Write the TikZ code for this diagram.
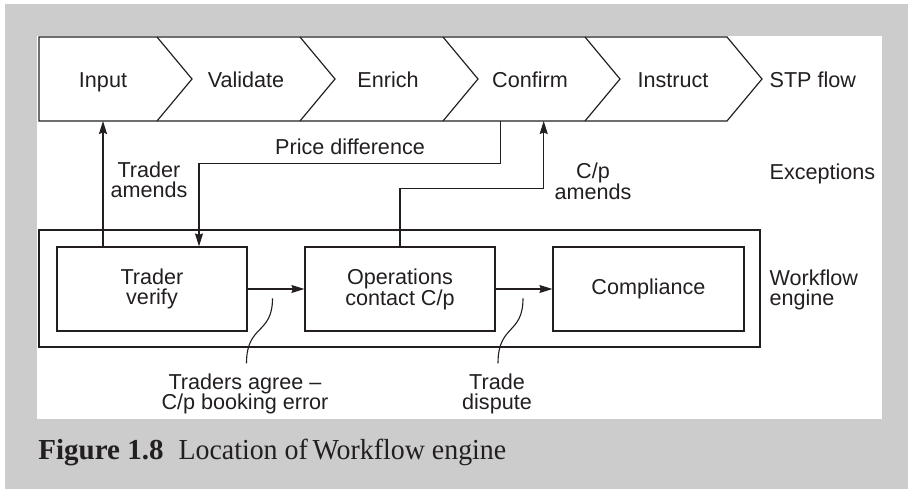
\documentclass[tikz,border=0pt]{standalone}
\usepackage{fontspec}
\setmainfont{Liberation Sans}
\newfontfamily\capfont{Liberation Serif}
\usetikzlibrary{arrows.meta}
\definecolor{framegray}{HTML}{CCCCCC}
\definecolor{ink}{HTML}{231F20}
\begin{document}
\begin{tikzpicture}[x=1pt,y=-1pt,line width=1.2pt,
  >={Stealth[length=13pt,width=8pt,inset=1.5pt]},
  lbl/.style={font=\fontsize{21.6}{20}\selectfont,text=ink,inner sep=0pt,align=center},
  tightlbl/.style={lbl,font=\fontsize{21.6}{19.5}\selectfont},
  stagebox/.style={tightlbl,draw=ink,minimum width=190pt,minimum height=84pt},
  wire/.style={draw=ink,line width=1.2pt},
  leader/.style={draw=ink,line width=1.1pt}]

% page, grey frame and white panel
\fill[white] (0,0) rectangle (908,489);
\fill[framegray] (5,4) rectangle (908,489);
\fill[white] (37,36) rectangle (881.5,418.5);

% STP flow: row of chevrons
\draw[wire,line join=miter] (39,37) -- (727,37) -- (762,79) -- (727,121) -- (39,121) -- cycle;
\foreach \bx in {157,300,443,585}
  \draw[wire] (\bx,37) -- (\bx+35,79) -- (\bx,121);

\node[lbl,anchor=base] (input)    at (103,87.3) {Input};
\node[lbl,anchor=base] (validate) at (246,87.3) {Validate};
\node[lbl,anchor=base] (enrich)   at (388,87.3) {Enrich};
\node[lbl,anchor=base] (confirm)  at (530,87.3) {Confirm};
\node[lbl,anchor=base] (instruct) at (673,87.3) {Instruct};
\node[lbl,anchor=base west] (stp) at (769,87.3) {STP flow};

% feet of the exception connectors on the chevron row
\coordinate (inFoot) at (103,121);
\coordinate (cfFoot) at (500.7,121);
\coordinate (cpFoot) at (543.7,121);

% workflow engine
\node[draw=ink,line width=1.2pt,minimum width=721pt,minimum height=117pt,inner sep=0pt] (engine) at (399.5,288.5) {};
\node[stagebox] (tv)   at (152,289)   {Trader\\verify};
\node[stagebox] (ops)  at (400,289)   {Operations\\contact C/p};
\node[stagebox,minimum width=191pt] (comp) at (648.5,289) {Compliance};

\node[tightlbl,align=left,anchor=west] (wfe) at (769,290) {Workflow\\engine};

% exception paths
\coordinate (pdCorner) at (199,163.3);
\coordinate (cpLevel)  at (0,188.3);
\draw[wire,->] (tv.north -| inFoot) -- (inFoot);
\draw[wire,->] (cfFoot) |- (pdCorner) -- (tv.north -| pdCorner);
\draw[wire,->] (ops.north) |- (cpLevel -| cpFoot) -- (cpFoot);

\node[lbl] (ta)  at (149,180) {Trader\\amends};
\node[lbl,anchor=base] (pd) at (350,155) {Price difference};
\node[lbl] (cpa) at (593,181) {C/p\\amends};
\node[lbl,anchor=base west] (exc) at (769,180) {Exceptions};

% hand-offs inside the engine
\draw[wire,->] (tv.east) -- (ops.west);
\draw[wire,->] (ops.east) -- (comp.west);

% annotations with curved leaders
\node[lbl,font=\fontsize{21.6}{20.7}\selectfont] (agree)   at (245,394) {Traders agree –\\C/p booking error};
\node[lbl,font=\fontsize{21.6}{20.7}\selectfont] (dispute) at (497,394) {Trade\\dispute};
\coordinate (l1) at (272.5,298.3);
\coordinate (l2) at (523,298.3);
\draw[leader] (l1) .. controls (272.5,335) and (246.5,324) .. (246.5,363.3);
\draw[leader] (l2) .. controls (523,335) and (498,324) .. (498,363.3);

% caption
\node[anchor=base west,inner sep=0pt,text=ink] (caption) at (37.8,459.3)
  {\capfont\fontsize{29}{34}\selectfont\textbf{Figure 1.8}\hspace{15pt}\scalebox{0.962}[1]{Location of\,Workflow engine}};
\end{tikzpicture}
\end{document}
